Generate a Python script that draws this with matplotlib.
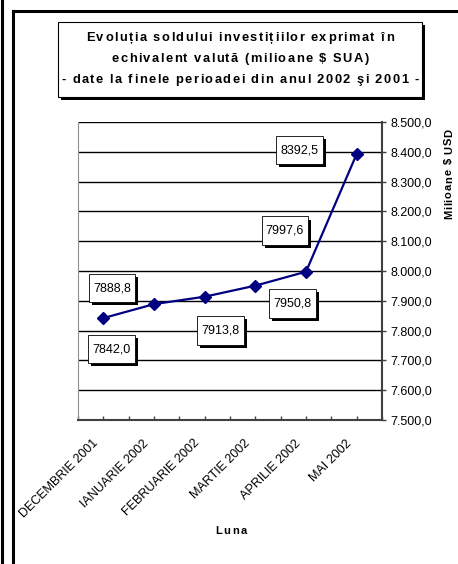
import matplotlib
matplotlib.use('Agg')
import matplotlib.pyplot as plt
import matplotlib.patheffects as pe
from matplotlib.font_manager import FontProperties
from matplotlib.lines import Line2D
from matplotlib.patches import Rectangle
from matplotlib.path import Path
from matplotlib.ticker import FuncFormatter, MultipleLocator
from matplotlib.transforms import ScaledTranslation

plt.rcParams['font.family'] = ['Liberation Sans', 'DejaVu Sans']

luni = ['DECEMBRIE 2001', 'IANUARIE 2002', 'FEBRUARIE 2002',
        'MARTIE 2002', 'APRILIE 2002', 'MAI 2002']
sold = [7842.0, 7888.8, 7913.8, 7950.8, 7997.6, 8392.5]
etichete = ['7842,0', '7888,8', '7913,8', '7950,8', '7997,6', '8392,5']
titlu = ['Evoluția soldului investițiilor exprimat în',
         'echivalent valută (milioane $ SUA)',
         '- date la finele perioadei din anul 2002 şi 2001 -']
# label offsets from each point, in pixels (x right, y up)
offs = [(8, -31), (-42, 16), (16, -34), (37, -18), (-21, 41), (-57, 4)]

W, H = 458, 564
fig = plt.figure(figsize=(W / 100, H / 100), dpi=100)
rend = fig.canvas.get_renderer()


def spaced(s, xc, y, size, gap, vertical=False):
    # text with extra letter spacing (pixels), centred on xc
    fp = FontProperties(family=['Liberation Sans', 'DejaVu Sans'], weight='bold', size=size)
    ws = [rend.get_text_width_height_descent(c, fp, ismath=False)[0] for c in s]
    tot = sum(ws) + gap * (len(s) - 1)
    if vertical:
        pos = xc + tot / 2
        for c, w in zip(s, ws):
            fig.text(y / W, 1 - pos / H, c, rotation=90, fontproperties=fp,
                     ha='left', va='baseline', rotation_mode='anchor')
            pos -= w + gap
    else:
        pos = xc - tot / 2
        for c, w in zip(s, ws):
            fig.text(pos / W, 1 - y / H, c, fontproperties=fp, ha='left', va='baseline')
            pos += w + gap


def box(x0, y0, width, height, mutation_size):
    px, py = 0.34 * mutation_size, 0.66 * mutation_size
    x1, y1 = x0 + width + px, y0 + height + py
    x0, y0 = x0 - px, y0 - py
    return Path([(x0, y0), (x1, y0), (x1, y1), (x0, y1), (x0, y0)], closed=True)


# outer frame lines
fig.add_artist(Line2D([1.5 / W, 1.5 / W], [0, 1], color='black', lw=2.2))
fig.add_artist(Line2D([13 / W, 13 / W], [0, 1 - 11 / H], color='black', lw=2.2))
fig.add_artist(Line2D([13 / W, 1], [1 - 11 / H, 1 - 11 / H], color='black', lw=2.2))

# title box with shadow
tb = Rectangle((58 / W, 1 - 97 / H), (422 - 58) / W, (97 - 22) / H,
               transform=fig.transFigure, facecolor='white', edgecolor='black', lw=0.8)
tb.set_path_effects([pe.SimplePatchShadow(offset=(2.2, -2.2), shadow_rgbFace='black', alpha=1),
                     pe.Normal()])
fig.add_artist(tb)
for linie, yb in zip(titlu, [41, 62, 83]):
    spaced(linie, 240, yb, 9.3, 1.45)

ax = fig.add_axes([78 / W, 1 - 420 / H, (382 - 78) / W, (420 - 122) / H])
x = list(range(len(luni)))
ax.plot(x, sold, color='#000080', lw=1.6, marker='D', markersize=6.2, zorder=3)

ax.set_xlim(-0.5, len(luni) - 0.5)
ax.set_ylim(7500, 8500)
ax.yaxis.set_major_locator(MultipleLocator(100))
ax.yaxis.tick_right()
ax.yaxis.set_major_formatter(FuncFormatter(
    lambda v, p: '{:,.1f}'.format(v).replace(',', 'X').replace('.', ',').replace('X', '.')))
ax.grid(axis='y', color='black', lw=1)
ax.set_axisbelow(True)
ax.tick_params(axis='y', direction='out', length=3, width=1, colors='#404040',
               labelcolor='black', labelsize=9, pad=3)

ax.set_xticks(x)
ax.set_xticks([i - 0.5 for i in range(len(luni) + 1)], minor=True)
ax.set_xticklabels(luni, rotation=45, ha='right', va='baseline', rotation_mode='anchor',
                   fontsize=9)
ax.tick_params(axis='x', which='both', direction='in', length=3, width=1, colors='#404040',
               labelcolor='black', pad=17)
shift = ScaledTranslation(-5 / 100, 0, fig.dpi_scale_trans)
for lab in ax.get_xticklabels():
    lab.set_transform(lab.get_transform() + shift)

ax.spines['top'].set_visible(False)
ax.spines['left'].set_color('#909090')
ax.spines['left'].set_linewidth(0.8)
ax.spines['right'].set_color('#404040')
ax.spines['right'].set_linewidth(1.5)
ax.spines['bottom'].set_color('#404040')
ax.spines['bottom'].set_linewidth(1.5)

for xi, v, t, o in zip(x, sold, etichete, offs):
    a = ax.annotate(t, (xi, v), xytext=o, textcoords='offset pixels',
                    ha='center', va='center', fontsize=9,
                    bbox=dict(boxstyle=box, facecolor='white', edgecolor='black', lw=0.6),
                    zorder=4)
    a.get_bbox_patch().set_path_effects(
        [pe.SimplePatchShadow(offset=(2.2, -2.2), shadow_rgbFace='black', alpha=1), pe.Normal()])

spaced('Milioane $ USD', 174, 452, 8, 0.8, vertical=True)
spaced('Luna', 231, 534, 8, 1.5)

fig.savefig('out.png', dpi=100)
